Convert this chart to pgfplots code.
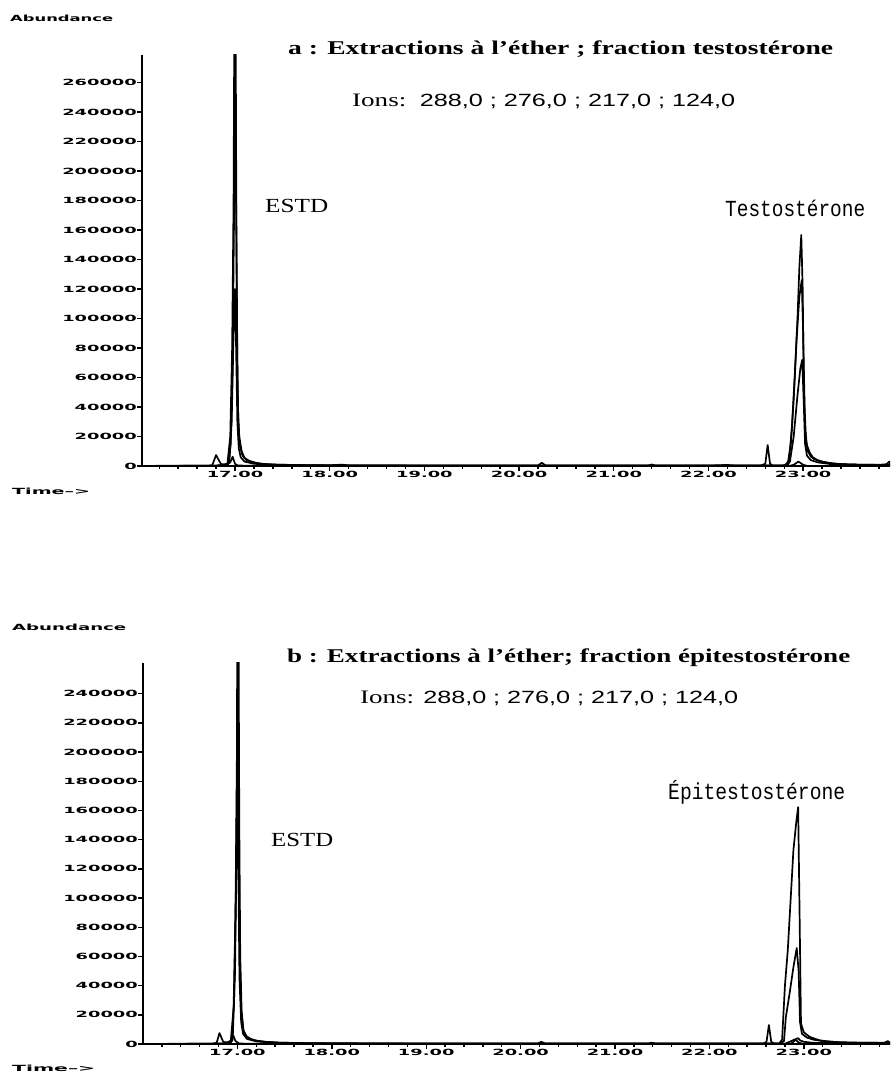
\documentclass[border=0pt]{standalone}
\usepackage{fontspec}
\setmainfont{Liberation Serif}
\setsansfont{DejaVu Sans}
\newfontfamily\arialf{Liberation Sans}
\newfontfamily\typef{Liberation Mono}
\usepackage{graphicx}
\usepackage{pgfplots}
\pgfplotsset{compat=1.18}

% blocky tick font of the chromatogram printout
\newcommand\blk[1]{\scalebox{2.1}[1]{\fontsize{8.5}{8.5}\selectfont\sffamily\bfseries #1}}
\newcommand\fitx[2]{\resizebox{#1}{\height}{#2}}

\pgfplotsset{
  trace/.style={black, line width=1.7pt, line join=round, mark=none},
  chrom/.style={
    scale only axis, anchor=south west,
    axis x line*=bottom, axis y line*=left,
    axis line style={line width=1.6pt, -},
    tick align=outside,
    major tick length=5pt, minor tick length=3pt,
    every tick/.style={black, line width=1.4pt},
    ymin=0, scaled y ticks=false,
    xtick={17,18,19,20,21,22,23},
    xticklabels={\blk{17.00},\blk{18.00},\blk{19.00},\blk{20.00},\blk{21.00},\blk{22.00},\blk{23.00}},
    minor xtick={16.2,16.4,...,23.8},
    yticklabel style={inner sep=0pt, anchor=east},
    xticklabel style={inner sep=0pt, anchor=north},
  }
}

\begin{document}
\begin{tikzpicture}[x=1pt,y=1pt]
\useasboundingbox (0,0) rectangle (893,1072);

% ---------- a : testosterone fraction ----------
\begin{axis}[chrom, at={(142pt,606pt)}, width=748pt, height=411pt,
    xmin=16.018, xmax=23.917, ymax=278600,
    ytick={0,20000,40000,60000,80000,100000,120000,140000,160000,180000,200000,220000,240000,260000},
    yticklabels={\blk{0},\blk{20000},\blk{40000},\blk{60000},\blk{80000},\blk{100000},\blk{120000},\blk{140000},\blk{160000},\blk{180000},\blk{200000},\blk{220000},\blk{240000},\blk{260000}}]
\addplot[trace] coordinates {
(16.02,0) (16.3,200) (16.6,100) (16.85,300) (16.92,1500) (16.95,20000) (16.97,80000)
(16.985,180000) (16.995,330000) (17.005,330000) (17.015,160000) (17.025,70000)
(17.035,30000) (17.05,14000) (17.08,7000) (17.12,4000) (17.18,2500) (17.25,1600)
(17.35,1100) (17.5,800) (17.7,600) (18.0,500) (18.13,900) (18.2,400) (18.6,400)
(19.0,300) (19.5,300) (20.0,300) (20.2,300) (20.24,2200) (20.28,300) (20.8,300)
(21.36,300) (21.4,1000) (21.44,300) (22.0,300) (22.19,700) (22.3,300) (22.7,300)
(22.82,500) (22.85,4000) (22.88,25000) (22.91,60000) (22.94,100000) (22.96,135000)
(22.98,156600) (22.995,120000) (23.005,60000) (23.02,25000) (23.04,14000) (23.07,9000)
(23.1,6000) (23.15,4000) (23.2,3000) (23.3,1800) (23.4,1200) (23.6,900) (23.8,800)
(23.88,1200) (23.91,3000) (23.917,1500)
};
\addplot[trace] coordinates {
(16.02,0) (16.8,200) (16.93,1500) (16.955,15000) (16.975,70000) (16.99,170000)
(17.0,250000) (17.01,200000) (17.02,100000) (17.03,40000) (17.045,20000) (17.07,10000)
(17.1,5500) (17.15,3500) (17.22,2200) (17.3,1400) (17.45,900) (17.7,600) (18.0,400)
(19,300) (20,300) (21,300) (22,300) (22.8,300) (22.84,2500) (22.87,15000) (22.9,45000)
(22.93,85000) (22.96,115000) (22.985,126000) (23.0,90000) (23.015,40000) (23.03,17000)
(23.05,10000) (23.08,6500) (23.12,4500) (23.18,3200) (23.25,2200) (23.35,1500)
(23.5,1000) (23.7,800) (23.917,700)
};
\addplot[trace] coordinates {
(16.02,0) (16.9,200) (16.94,2000) (16.965,30000) (16.985,90000) (17.0,120000)
(17.012,80000) (17.025,30000) (17.04,12000) (17.06,6000) (17.1,3000) (17.2,1500)
(17.4,700) (17.8,400) (18.5,300) (19.5,200) (20.5,200) (21.5,200) (22.55,200)
(22.6,1500) (22.625,14200) (22.65,1500) (22.68,200) (22.83,200) (22.86,3000)
(22.9,20000) (22.94,48000) (22.97,66000) (22.99,72000) (23.005,45000) (23.02,15000)
(23.04,7000) (23.08,4000) (23.15,2500) (23.3,1200) (23.6,700) (23.917,500)
};
\addplot[trace] coordinates {
(16.02,0) (16.7,0) (16.76,500) (16.8,7400) (16.85,1500) (16.9,500) (16.95,2500)
(16.975,6300) (17.0,1500) (17.03,300) (17.5,0) (22.85,0) (22.9,800) (22.95,3000)
(23.0,800) (23.05,0) (23.917,0)
};
\end{axis}

% ---------- b : epitestosterone fraction ----------
\begin{axis}[chrom, at={(143pt,28pt)}, width=747pt, height=381pt,
    xmin=16.0, xmax=23.913, ymax=261000,
    ytick={0,20000,40000,60000,80000,100000,120000,140000,160000,180000,200000,220000,240000},
    yticklabels={\blk{0},\blk{20000},\blk{40000},\blk{60000},\blk{80000},\blk{100000},\blk{120000},\blk{140000},\blk{160000},\blk{180000},\blk{200000},\blk{220000},\blk{240000}}]
\addplot[trace] coordinates {
(16.0,0) (16.5,200) (16.85,300) (16.93,2000) (16.96,25000) (16.98,90000)
(16.995,200000) (17.0,320000) (17.01,320000) (17.02,150000) (17.03,60000)
(17.045,22000) (17.065,9000) (17.1,5000) (17.15,3000) (17.22,2000) (17.3,1400)
(17.45,900) (17.7,600) (18.0,500) (18.5,400) (19,300) (19.5,300) (20.18,300)
(20.22,1500) (20.26,300) (21.35,300) (21.39,900) (21.43,300) (22.0,300) (22.6,300)
(22.74,400) (22.77,3000) (22.8,40000) (22.83,64000) (22.87,110000) (22.89,133000)
(22.92,152000) (22.94,162300) (22.955,90000) (22.97,14000) (23.0,8000) (23.06,5000)
(23.12,3500) (23.17,2500) (23.25,1800) (23.4,1000) (23.6,800) (23.85,800)
(23.89,2000) (23.913,1000)
};
\addplot[trace] coordinates {
(16.0,0) (16.9,200) (16.94,2000) (16.965,30000) (16.985,110000) (17.0,213000)
(17.012,150000) (17.025,60000) (17.04,24000) (17.06,10000) (17.09,5500) (17.14,3500)
(17.2,2300) (17.3,1500) (17.45,900) (17.7,600) (18.0,400) (19,300) (20,300) (21,300)
(22,300) (22.75,300) (22.79,2000) (22.81,18500) (22.85,35000) (22.89,52700)
(22.925,65700) (22.945,50000) (22.96,15000) (22.98,7000) (23.03,4500) (23.1,3000)
(23.2,2000) (23.35,1300) (23.6,900) (23.913,700)
};
\addplot[trace] coordinates {
(16.0,0) (16.92,200) (16.95,3000) (16.975,50000) (16.99,130000) (17.0,180000)
(17.01,120000) (17.022,45000) (17.04,15000) (17.06,7000) (17.1,3500) (17.2,1800)
(17.4,800) (17.8,400) (18.5,300) (19.5,200) (20.5,200) (21.5,200) (22.57,200)
(22.605,1500) (22.63,13000) (22.655,1500) (22.69,200) (22.8,200) (22.85,1500)
(22.9,3000) (22.94,4000) (22.96,2500) (23.0,1500) (23.1,800) (23.4,500) (23.913,400)
};
\addplot[trace] coordinates {
(16.0,0) (16.72,0) (16.78,800) (16.81,7500) (16.85,1500) (16.9,800) (16.93,2500)
(16.955,6000) (16.98,2000) (17.02,300) (17.5,0) (22.85,0) (22.88,800) (22.91,3000)
(22.95,800) (23.0,0) (23.913,0)
};
\end{axis}

% ---------- texts ----------
\begin{scope}[every node/.style={inner sep=0pt, anchor=base west}]
\node at (10,1050) {\fitx{103pt}{\fontsize{8.5}{8.5}\selectfont\sffamily\bfseries Abundance}};
\node at (288,1017) {\fitx{545pt}{\fontsize{19.5}{20}\selectfont\bfseries a : Extractions à l'éther ; fraction testostérone}};
\node at (352,965) {\fitx{383pt}{\fontsize{19}{20}\selectfont Ions:~~{\arialf\fontsize{17.7}{20}\selectfont 288,0 ; 276,0 ; 217,0 ; 124,0}}};
\node at (265,859) {\fitx{63pt}{\fontsize{20}{20}\selectfont ESTD}};
\node at (725,855) {\fitx{140pt}{\fontsize{23}{24}\selectfont\typef Testostérone}};
\node at (12,577) {\fitx{78pt}{\fontsize{8.5}{8.5}\selectfont\sffamily\bfseries Time-->}};

\node at (12,441) {\fitx{114pt}{\fontsize{8.5}{8.5}\selectfont\sffamily\bfseries Abundance}};
\node at (287,409) {\fitx{563pt}{\fontsize{19.5}{20}\selectfont\bfseries b : Extractions à l'éther; fraction épitestostérone}};
\node at (360,368) {\fitx{378pt}{\fontsize{19}{20}\selectfont Ions: {\arialf\fontsize{17.7}{20}\selectfont 288,0 ; 276,0 ; 217,0 ; 124,0}}};
\node at (271,225) {\fitx{62pt}{\fontsize{20}{20}\selectfont ESTD}};
\node at (668,272) {\fitx{177pt}{\fontsize{23}{24}\selectfont\typef Épitestostérone}};
\node at (12,1) {\fitx{83pt}{\fontsize{8.5}{8.5}\selectfont\sffamily\bfseries Time-->}};
\end{scope}
\end{tikzpicture}
\end{document}
